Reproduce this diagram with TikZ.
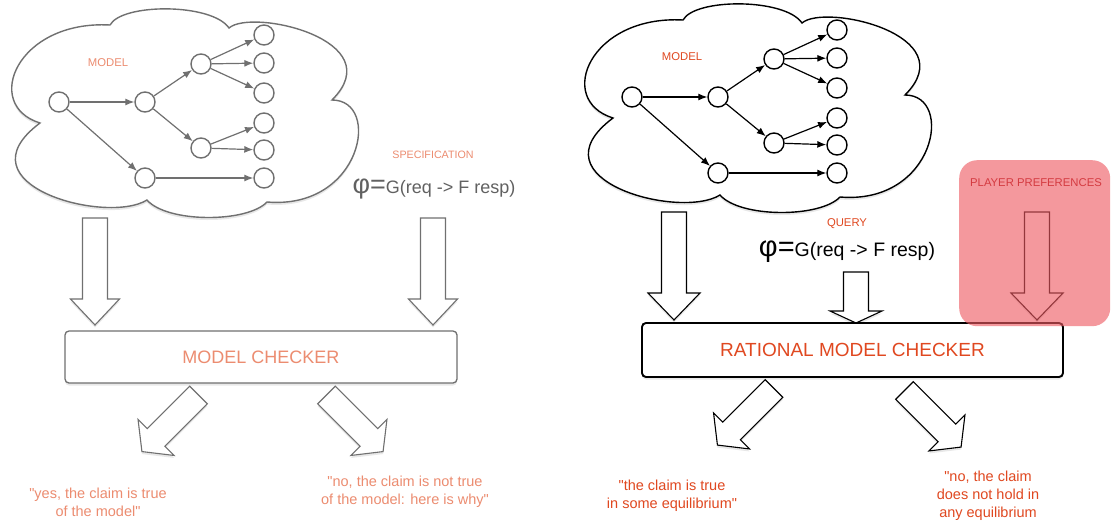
\documentclass[tikz,border=0pt]{standalone}
\usepackage{fontspec}
\setmainfont{Liberation Sans}[Ligatures=TeXOff]
\usetikzlibrary{arrows.meta,shadows}
\definecolor{salmon}{RGB}{236,140,112}
\definecolor{orred}{RGB}{224,72,32}
\definecolor{pinkbg}{RGB}{238,90,98}
\definecolor{pinktxt}{RGB}{212,58,64}
\definecolor{lgrey}{RGB}{112,112,112}
\colorlet{gc}{black}

\newcommand\cloudpath{(683,20) .. controls (695,-2) and (785,-2) .. (802,23) .. controls (825,3) and (965,35) .. (905,95) .. controls (955,95) and (935,205) .. (840,197) .. controls (820,218) and (740,218) .. (720,195) .. controls (680,220) and (530,180) .. (613,118) .. controls (555,100) and (590,15) .. (683,20) -- cycle}

\newcommand\modelgraph{%
  \draw[cloudst] \cloudpath;
  \node[st] (root) at (632,97) {};
  \node[st] (mid) at (718,97) {};
  \node[st] (top) at (774,59) {};
  \node[st] (low) at (774,143) {};
  \node[st] (bot) at (718,173) {};
  \node[st] (l1) at (837,30) {};
  \node[st] (l2) at (837,58) {};
  \node[st] (l3) at (837,88) {};
  \node[st] (l4) at (837,118) {};
  \node[st] (l5) at (837,145) {};
  \node[st] (l6) at (837,173) {};
  \draw[gedge] (root) -- (mid);
  \draw[gedge] (root) -- (bot);
  \draw[gedge] (mid) -- (top);
  \draw[gedge] (mid) -- (low);
  \draw[gedge] (top) -- (l1);
  \draw[gedge] (top) -- (l2);
  \draw[gedge] (top) -- (l3);
  \draw[gedge] (low) -- (l4);
  \draw[gedge] (low) -- (l5);
  \draw[gedge] (bot) -- (l6);
}

% [style]{tail}{angle (clockwise, screen)}{length}{head length}{head half width}
\newcommand\blockarrow[6][]{%
  \begin{scope}[shift={(#2)},rotate=-#3]
    \filldraw[barrow,#1] (0,-12.5) -- ({#4-#5},-12.5) -- ({#4-#5},-#6) -- (#4,0)
      -- ({#4-#5},#6) -- ({#4-#5},12.5) -- (0,12.5) -- cycle;
  \end{scope}}

\tikzset{
  shad/.style={drop shadow={shadow xshift=0pt,shadow yshift=-2.5pt,opacity=.18}},
  cloudst/.style={draw=gc, fill=white, line width=1.4pt, shad},
  st/.style={circle, draw=gc, fill=white, line width=1.4pt, minimum size=20pt, inner sep=0pt},
  gedge/.style={-{Latex[length=9pt,width=7pt]}, draw=gc, line width=1.2pt},
  barrow/.style={fill=white, draw=gc, line width=1.1pt, line join=miter, shad},
  mbox/.style={draw=gc, fill=white, rounded corners=4pt, shad},
  lbl/.style={inner sep=0pt, font=\fontsize{11.3}{13}\selectfont},
  outtxt/.style={inner sep=0pt, align=center, font=\fontsize{14.5}{18}\selectfont},
}

\begin{document}
\begin{tikzpicture}[x=1pt,y=-1pt]
\useasboundingbox (0,0) rectangle (1111,522);
\fill[white] (0,0) rectangle (1111,522);

% ---------------- left: classical model checking ----------------
\begin{scope}[shift={(-573,5)}, name prefix=L-]
  \colorlet{gc}{lgrey}
  \modelgraph
\end{scope}
\node[lbl, text=salmon] (lmodel) at (108,63) {MODEL};
\node[lbl, text=salmon, font=\fontsize{10.7}{12}\selectfont] (lspec) at (433,155) {SPECIFICATION};
\node[inner sep=0pt, anchor=base, text=black!62] (lphi) at (434,193)
  {{\fontsize{27}{27}\selectfont φ=}\fontsize{18}{20}\selectfont G(req -> F resp)};

\begin{scope}
  \colorlet{gc}{lgrey}
  \coordinate (la1) at (95,218);
  \coordinate (la2) at (433,218);
  \coordinate (la3) at (198.5,395);
  \coordinate (la4) at (326.5,395);
  \blockarrow{la1}{90}{107}{26}{24.5}
  \blockarrow{la2}{90}{107}{26}{24.5}
  \node[mbox, line width=1.3pt, minimum width=392pt, minimum height=52pt,
        text=salmon, font=\fontsize{18}{20}\selectfont] (mc) at (261,357) {MODEL CHECKER};
  \blockarrow{la3}{135}{80}{20}{25.5}
  \blockarrow{la4}{45}{80}{20}{25.5}
\end{scope}
\node[outtxt, text=salmon] (lyes) at (98,502) {"yes, the claim is true\\of the model"};
\node[outtxt, text=salmon] (lno) at (405,492) {"no, the claim is not true\\of the model: here is why"};

% ---------------- right: rational model checking ----------------
\begin{scope}[name prefix=R-]
  \colorlet{gc}{black}
  \modelgraph
\end{scope}
\node[lbl, text=orred] (rmodel) at (682,57) {MODEL};
\node[lbl, text=orred] (rquery) at (847,224) {QUERY};
\node[inner sep=0pt, anchor=base] (rphi) at (847,256)
  {{\fontsize{29}{29}\selectfont φ=}\fontsize{19.5}{21}\selectfont G(req -> F resp)};

\coordinate (ra1) at (674,212);
\coordinate (ra2) at (856,272);
\coordinate (ra3) at (1037,212);
\coordinate (ra4) at (774,388.5);
\coordinate (ra5) at (904.5,390.5);
\blockarrow{ra1}{90}{108}{27}{26}
\blockarrow{ra2}{90}{51}{12}{26}
\blockarrow{ra3}{90}{108}{27}{26}
\node[mbox, line width=1.9pt, minimum width=421pt, minimum height=54pt,
      text=orred, font=\fontsize{19}{21}\selectfont] (rmc) at (852.5,350) {RATIONAL MODEL CHECKER};
\blockarrow{ra4}{135}{80}{20}{25.5}
\blockarrow{ra5}{45}{80}{20}{25.5}

\node[fill=pinkbg, opacity=.62, rounded corners=18pt, minimum width=151pt, minimum height=166pt,
      anchor=north west, inner sep=0pt] (pref) at (959,160) {};
\node[lbl, text=pinktxt] (preftxt) at (1036,183) {PLAYER PREFERENCES};

\node[outtxt, text=orred] (rtrue) at (672,496) {"the claim is true\\in some equilibrium"};
\node[outtxt, text=orred] (rno) at (988,496) {"no, the claim\\does not hold in\\any equilibrium};
\end{tikzpicture}
\end{document}
